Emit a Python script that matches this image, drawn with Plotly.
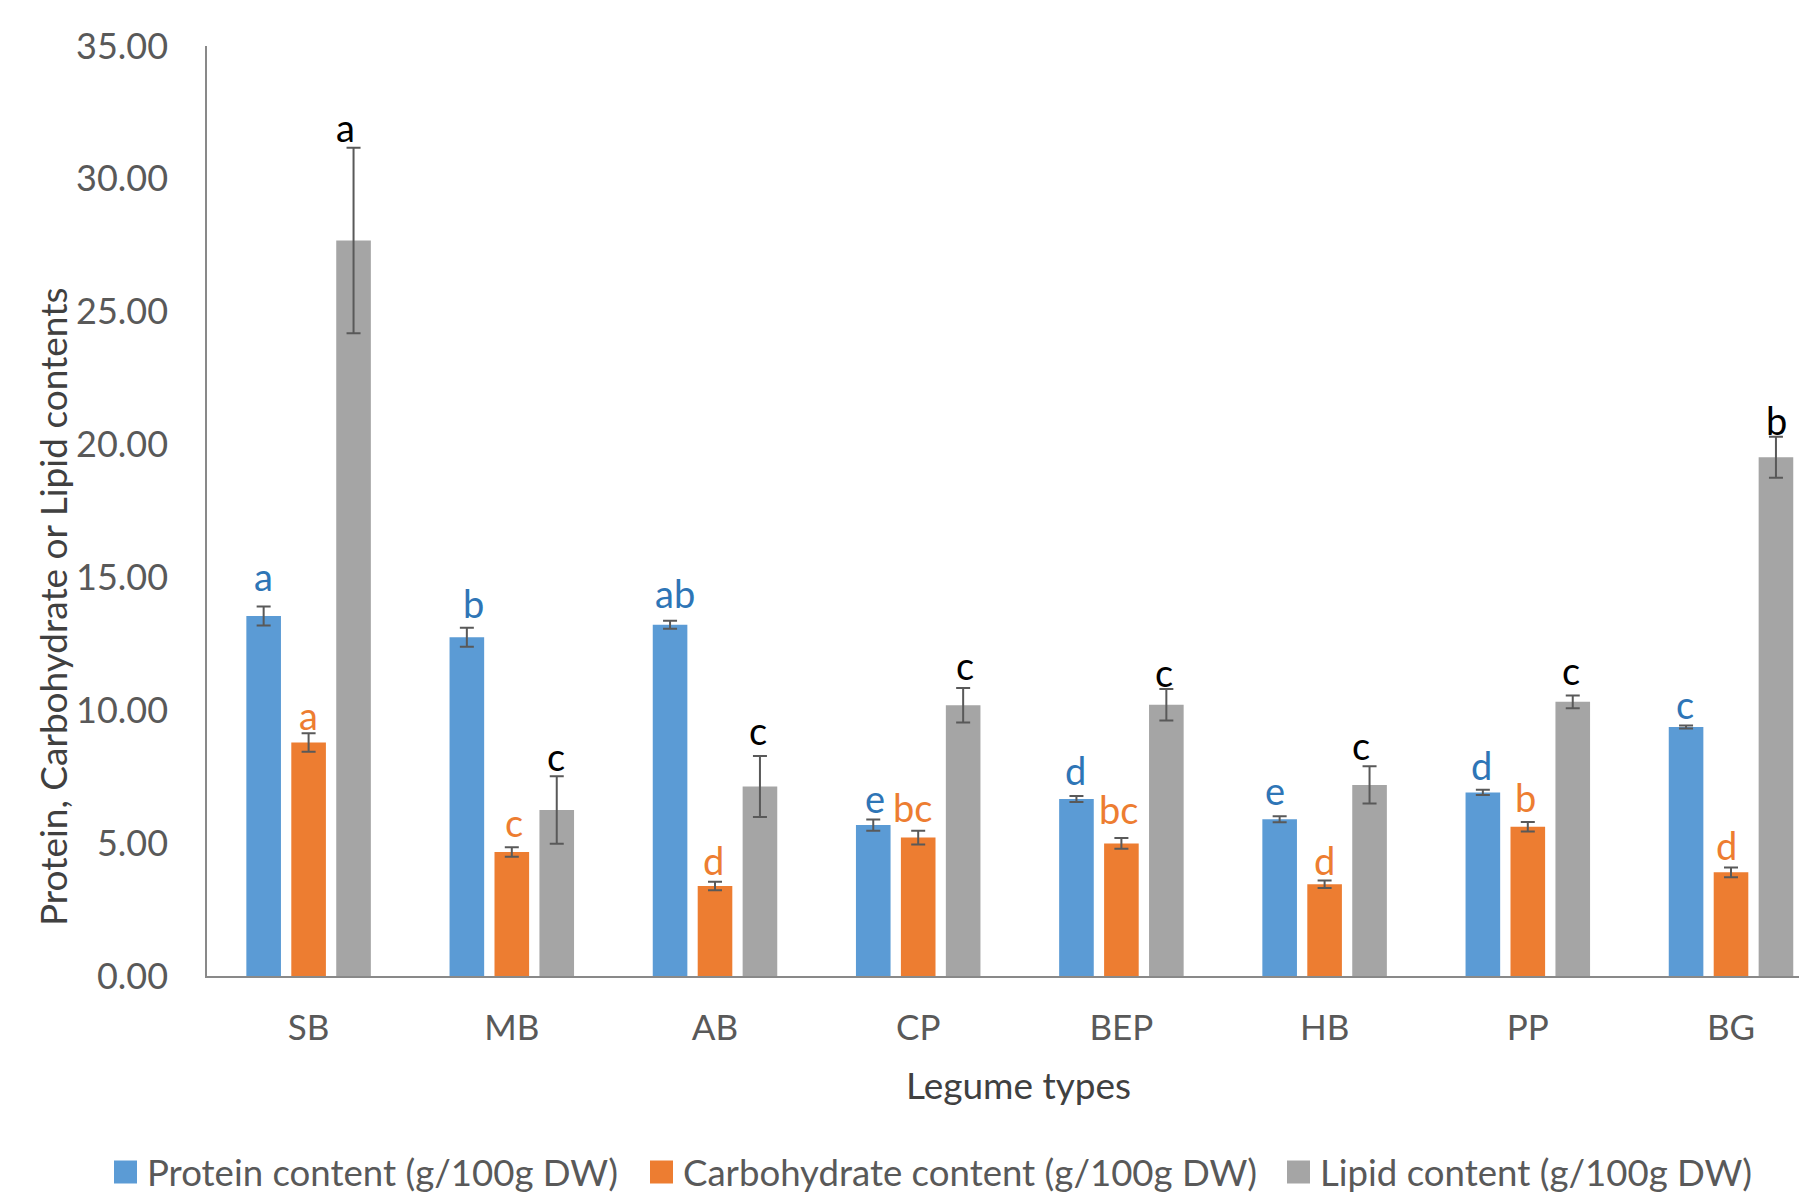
import plotly.graph_objects as go

# ---------------- data ----------------
categories = ["SB", "MB", "AB", "CP", "BEP", "HB", "PP", "BG"]
series_names = ["Protein content (g/100g DW)",
                "Carbohydrate content (g/100g DW)",
                "Lipid content (g/100g DW)"]
protein = [13.55, 12.75, 13.22, 5.68, 6.66, 5.90, 6.91, 9.37]
protein_err = [0.36, 0.36, 0.15, 0.21, 0.11, 0.11, 0.10, 0.06]
carbohydrate = [8.79, 4.67, 3.39, 5.21, 4.99, 3.45, 5.62, 3.90]
carbohydrate_err = [0.35, 0.18, 0.16, 0.26, 0.20, 0.14, 0.18, 0.18]
lipid = [27.68, 6.25, 7.13, 10.19, 10.21, 7.19, 10.32, 19.52]
lipid_err = [3.49, 1.27, 1.15, 0.65, 0.59, 0.70, 0.24, 0.77]
protein_letters = ["a", "b", "ab", "e", "d", "e", "d", "c"]
carbohydrate_letters = ["a", "c", "d", "bc", "bc", "d", "b", "d"]
lipid_letters = ["a", "c", "c", "c", "c", "c", "c", "b"]
y_ticks = [0, 5, 10, 15, 20, 25, 30, 35]

# ---------------- styles ----------------
bar_colors = ["#5B9BD5", "#ED7D31", "#A5A5A5"]
letter_colors = ["#2E75B6", "#ED7D31", "#000000"]
FONT = "Lato"
OFF = 8                      # page body margin of the html page
PAGE_W, PAGE_H = 1807, 1197
W, H = PAGE_W - OFF, PAGE_H - OFF
PLOT_LEFT, PLOT_TOP, PLOT_BOTTOM = 207, 46, 976   # page pixels
L, R = PLOT_LEFT - OFF, 0
T, B = PLOT_TOP - OFF, H - (PLOT_BOTTOM - OFF)
slot = 0.2212  # offset of a bar from its group's centre (category units)
# small pixel nudges of the significance letters (as placed in the original)
label_dx = [[0, 0, -8], [7, 2, -1], [5, -2, -2], [2, -6, 2],
            [-1, -3, -2], [-5, 0, -9], [-1, -2, -2], [-1, -5, 1]]
label_dy = [[30, 18, 21], [25, 25, 20], [28, 22, 26], [21, 24, 23],
            [26, 29, 17], [26, 21, 21], [25, 25, 25], [21, 23, 17]]

values = [protein, carbohydrate, lipid]
errors = [protein_err, carbohydrate_err, lipid_err]
letters = [protein_letters, carbohydrate_letters, lipid_letters]

fig = go.Figure()
for k in range(3):
    fig.add_trace(go.Bar(
        x=categories, y=values[k], name=series_names[k],
        marker=dict(color=bar_colors[k], line=dict(width=0)),
        error_y=dict(type="data", array=errors[k], visible=True,
                     color="#595959", thickness=2, width=7),
        showlegend=False,
    ))

annotations = []
for k in range(3):
    for i, cat in enumerate(categories):
        annotations.append(dict(
            x=i + (k - 1) * slot, y=values[k][i] + errors[k][i],
            xref="x", yref="y", text=letters[k][i], showarrow=False,
            xanchor="center", yanchor="middle",
            xshift=label_dx[i][k], yshift=label_dy[i][k],
            font=dict(family=FONT, size=38, color=letter_colors[k]),
        ))

def px_to_paper_x(px):
    # px in page pixels
    return (px - PLOT_LEFT) / (PAGE_W - PLOT_LEFT)

def px_to_paper_y(py):
    return (PLOT_BOTTOM - py) / (PLOT_BOTTOM - PLOT_TOP)

# axis titles
annotations.append(dict(
    x=px_to_paper_x(1019), y=px_to_paper_y(1084), xref="paper", yref="paper",
    text="Legume types", showarrow=False, xanchor="center", yanchor="middle",
    font=dict(family=FONT, size=37, color="#404040")))
annotations.append(dict(
    x=px_to_paper_x(52), y=px_to_paper_y(607), xref="paper", yref="paper",
    text="Protein, Carbohydrate or Lipid contents", showarrow=False,
    textangle=-90, xanchor="center", yanchor="middle",
    font=dict(family=FONT, size=37, color="#404040")))

# custom legend
shapes = []
legend_sq_left = [114, 650, 1287]
legend_y = 1172
sq = 23
for k in range(3):
    shapes.append(dict(
        type="rect", xref="paper", yref="paper",
        x0=px_to_paper_x(legend_sq_left[k]), x1=px_to_paper_x(legend_sq_left[k] + sq),
        y0=px_to_paper_y(legend_y + sq / 2), y1=px_to_paper_y(legend_y - sq / 2),
        fillcolor=bar_colors[k], line=dict(width=0)))
    annotations.append(dict(
        x=px_to_paper_x(legend_sq_left[k] + sq + 8), y=px_to_paper_y(legend_y),
        xref="paper", yref="paper", text=series_names[k], showarrow=False,
        xanchor="left", yanchor="middle",
        font=dict(family=FONT, size=36.6, color="#595959")))

fig.update_layout(
    width=W, height=H,
    margin=dict(l=L, r=R, t=T, b=B, pad=0),
    paper_bgcolor="white", plot_bgcolor="white",
    barmode="group", bargap=0.3364, bargroupgap=0.23,
    annotations=annotations, shapes=shapes,
    font=dict(family=FONT),
)
fig.update_xaxes(
    type="category", range=[-0.5, 7.374], showgrid=False, zeroline=False,
    showline=True, linecolor="#898989", linewidth=2,
    ticks="outside", ticklen=20, tickcolor="rgba(0,0,0,0)",
    tickfont=dict(family=FONT, size=35, color="#595959"),
)
fig.update_yaxes(
    range=[0, 35], tickvals=y_ticks, ticktext=[f"{v:.2f}" for v in y_ticks],
    showgrid=False, zeroline=False,
    showline=True, linecolor="#898989", linewidth=1.5,
    ticks="outside", ticklen=30, tickcolor="rgba(0,0,0,0)",
    tickfont=dict(family=FONT, size=36, color="#595959"),
)

fig.write_html("out.html")
